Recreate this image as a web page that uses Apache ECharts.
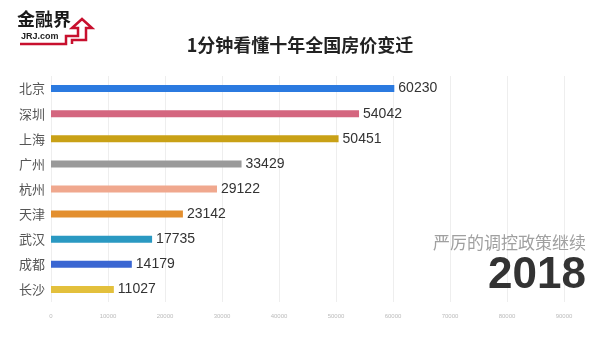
<!DOCTYPE html>
<html><head><meta charset="utf-8">
<script src="https://cdn.jsdelivr.net/npm/echarts@6/dist/echarts.min.js"></script>
<style>html,body{margin:0;padding:0;background:#fff}#c{width:600px;height:338px}</style>
</head><body><div id="c"></div>
<script>
const categories = ['北京','深圳','上海','广州','杭州','天津','武汉','成都','长沙'];
const values = [60230,54042,50451,33429,29122,23142,17735,14179,11027];
const colors = ['#2b7ae0','#d4667f','#c9a116','#9a9a9a','#f0a88e','#e38f2f','#2a99c2','#3a66d2','#e3c03c'];
const xTicks = [0,10000,20000,30000,40000,50000,60000,70000,80000,90000];
const title = '1分钟看懂十年全国房价变迁';
const subtitle = '严厉的调控政策继续';
const year = '2018';

const chart = echarts.init(document.getElementById('c'), null, {renderer:'canvas'});
chart.setOption({
  animation:false,
  backgroundColor:'#fff',
  grid:{left:51,right:36,top:76,bottom:36,containLabel:false},
  xAxis:{type:'value',min:xTicks[0],max:xTicks[xTicks.length-1],interval:10000,
    axisLine:{show:false},axisTick:{show:false},
    splitLine:{lineStyle:{color:'#eeeeee',width:1}},
    axisLabel:{fontSize:6,color:'#bbbbbb',margin:11,fontFamily:'Arial',formatter:v=>String(v)}},
  yAxis:{type:'category',data:categories,inverse:true,
    axisLine:{show:false},axisTick:{show:false},
    axisLabel:{fontSize:13,color:'#555',margin:6,fontFamily:'Noto Sans CJK SC'}},
  series:[{type:'bar',barWidth:7,
    data:values.map((v,i)=>({value:v,itemStyle:{color:colors[i]}})),
    label:{show:true,position:'right',distance:4,fontSize:14,color:'#333',fontFamily:'Arial'}}],
  graphic:[
    {type:'text',z:100,left:'center',top:36,style:{text:title,fontSize:18,fontWeight:'bold',fill:'#222',fontFamily:'Noto Sans CJK SC'}},
    {type:'text',z:100,right:14,top:234,style:{text:subtitle,fontSize:17,fill:'#a0a0a0',fontFamily:'Noto Sans CJK SC'}},
    {type:'text',z:100,right:14,top:254,style:{text:year,fontSize:44,fontWeight:'bold',fill:'#333',fontFamily:'Arial'}},
    {type:'text',z:100,left:17,top:10,style:{text:'金融界',fontSize:18,fontWeight:'bold',fill:'#1a1a1a',fontFamily:'Noto Sans CJK SC'}},
    {type:'text',z:100,left:21,top:32,style:{text:'JRJ.com',fontSize:9,fontWeight:'bold',fill:'#222',fontFamily:'Arial'}},
    {type:'polyline',z:100,shape:{points:[[20,44],[66,44],[66,36],[78,36],[78,28],[72,28],[82,19],[92,28],[86,28],[86,40],[72,40],[72,44]]},
      style:{stroke:'#c8102e',lineWidth:2.5,fill:null}}
  ]
});
</script></body></html>
